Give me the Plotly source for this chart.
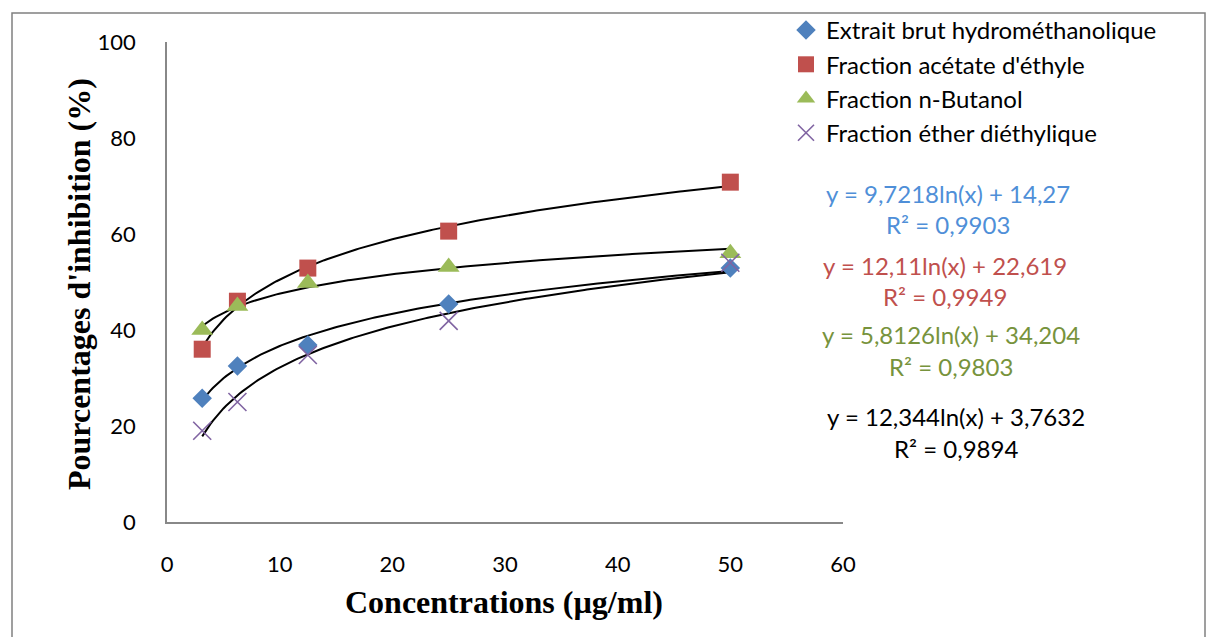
import numpy as np
import plotly.graph_objects as go

# Concentrations tested (µg/ml)
concentrations = [3.125, 6.25, 12.5, 25, 50]

# Percent inhibition per extract / fraction
extrait_brut = [25.8, 32.5, 36.9, 45.4, 52.9]
acetate_ethyle = [36.0, 46.0, 52.9, 60.6, 70.8]
n_butanol = [40.0, 45.0, 49.8, 53.1, 56.0]
ether_diethylique = [19.0, 25.0, 34.8, 41.9, 54.0]

series_names = [
    "Extrait brut hydrométhanolique",
    "Fraction acétate d'éthyle",
    "Fraction n-Butanol",
    "Fraction éther diéthylique",
]

# Logarithmic trend lines: y = a*ln(x) + b, with R²
trend_a = [9.7218, 12.11, 5.8126, 12.344]
trend_b = [14.27, 22.619, 34.204, 3.7632]
trend_r2 = ["0,9903", "0,9949", "0,9803", "0,9894"]
trend_a_txt = ["9,7218", "12,11", "5,8126", "12,344"]
trend_b_txt = ["14,27", "22,619", "34,204", "3,7632"]

colors = ["#4F81BD", "#C0504D", "#9BBB59", "#8064A2"]
eq_colors = ["#4F8FD8", "#C0504D", "#77933C", "#000000"]
symbols = ["diamond", "square", "triangle-up", "x-thin"]
sizes = [15, 17, 19, 18]

LEFT, RIGHT, TOP, BOTTOM = 167, 843, 42, 522
W, H = 1208, 637
PW, PH = RIGHT - LEFT, BOTTOM - TOP


def px_x(px):
    return (px - LEFT) / PW


def px_y(py):
    return (BOTTOM - py) / PH


fig = go.Figure()

values = [extrait_brut, acetate_ethyle, n_butanol, ether_diethylique]

# Trend lines first so markers sit on top
xs = np.linspace(min(concentrations), max(concentrations), 200)
for a, b in zip(trend_a, trend_b):
    fig.add_trace(go.Scatter(
        x=xs, y=a * np.log(xs) + b, mode="lines",
        line=dict(color="black", width=2), showlegend=False, hoverinfo="skip",
    ))

for name, vals, col, sym, sz in zip(series_names, values, colors, symbols, sizes):
    marker = dict(symbol=sym, size=sz, color=col)
    if sym == "x-thin":
        marker["line"] = dict(color=col, width=1.6)
    fig.add_trace(go.Scatter(
        x=concentrations, y=vals, mode="markers", name=name, marker=marker,
    ))

annotations = []
# Equation labels
eq_y = [(193, 224), (265, 296), (334, 366), (416, 448)]
eq_x = [948, 945, 951, 956]
for i in range(4):
    annotations.append(dict(
        x=px_x(eq_x[i]), y=px_y(eq_y[i][0]), xref="paper", yref="paper",
        text=f"y = {trend_a_txt[i]}ln(x) + {trend_b_txt[i]}", showarrow=False,
        font=dict(family="Lato", size=24, color=eq_colors[i]), xanchor="center", yanchor="middle",
    ))
    annotations.append(dict(
        x=px_x(eq_x[i]), y=px_y(eq_y[i][1]), xref="paper", yref="paper",
        text=f"R² = {trend_r2[i]}", showarrow=False,
        font=dict(family="Lato", size=24, color=eq_colors[i]), xanchor="center", yanchor="middle",
    ))

# Axis titles
annotations.append(dict(
    x=px_x(79), y=px_y(284), xref="paper", yref="paper", text="<b>Pourcentages d'inhibition (%)</b>",
    textangle=-90, showarrow=False, font=dict(family="Liberation Serif", size=32, color="black"),
    xanchor="center", yanchor="middle",
))
annotations.append(dict(
    x=px_x(504), y=px_y(602), xref="paper", yref="paper", text="<b>Concentrations (µg/ml)</b>",
    showarrow=False, font=dict(family="Liberation Serif", size=32, color="black"),
    xanchor="center", yanchor="middle",
))

fig.update_layout(
    width=W, height=H,
    margin=dict(l=LEFT, r=W - RIGHT, t=TOP, b=H - BOTTOM, pad=0, autoexpand=False),
    paper_bgcolor="white", plot_bgcolor="white",
    font=dict(family="Lato", size=22, color="black"),
    showlegend=True,
    legend=dict(
        x=px_x(786), y=px_y(8), xanchor="left", yanchor="top",
        font=dict(family="Lato", size=24, color="black"),
        bgcolor="rgba(0,0,0,0)", tracegroupgap=0, itemsizing="trace",
    ),
    annotations=annotations,
    shapes=[dict(
        type="rect", xref="paper", yref="paper",
        x0=px_x(12), x1=px_x(1205), y0=px_y(660), y1=px_y(13),
        line=dict(color="#808080", width=1.5), fillcolor="rgba(0,0,0,0)", layer="below",
    )],
)

fig.update_xaxes(
    range=[0, 60], dtick=10, showgrid=False, zeroline=False,
    showline=True, linecolor="#888888", linewidth=1.5, ticks="",
    ticklabelstandoff=22, tickfont=dict(family="Lato", size=22, color="black"),
)
fig.update_yaxes(
    range=[0, 100], dtick=20, showgrid=False, zeroline=False,
    showline=True, linecolor="#888888", linewidth=1.5, ticks="",
    ticklabelstandoff=25, tickfont=dict(family="Lato", size=22, color="black"),
)

fig.write_html("out.html")
